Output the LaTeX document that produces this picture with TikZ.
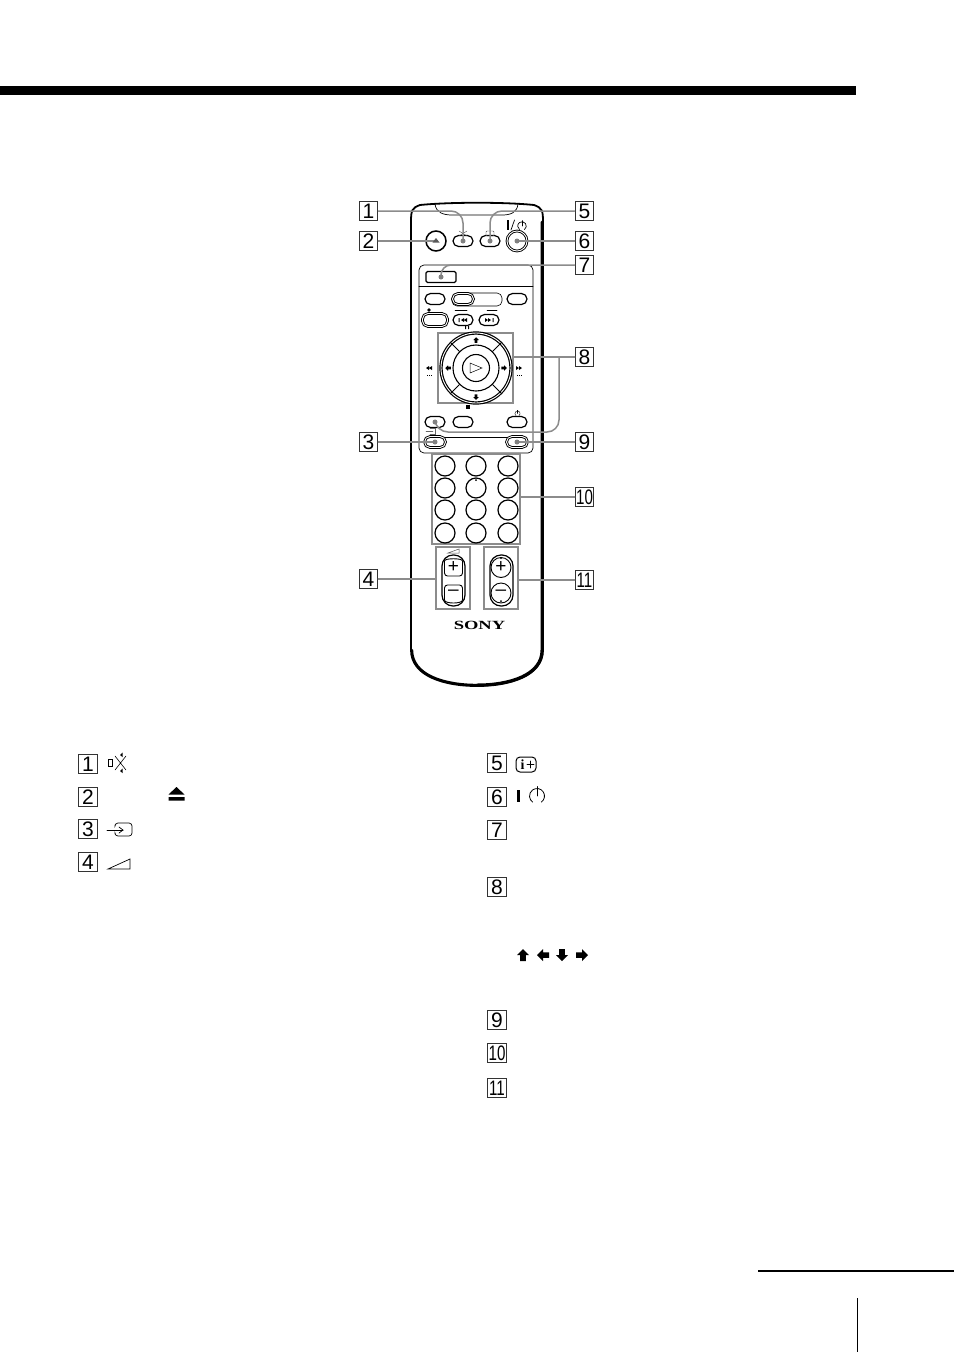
\documentclass[tikz,border=0pt]{standalone}
\usepackage{fontspec}
\setmainfont{Liberation Sans}
\newfontfamily\logofont{Liberation Serif}

% power mark: x, y, radius
\newcommand{\powermark}[4][thin]{
	\draw [#1] (#2,#3)++(55:#4) arc (55:-235:#4);
	\draw [#1] (#2,#3) -- ++(0,-#4*1.25);
}
% solid arrow: x, y, rotation
\newcommand{\navarrow}[4][1]{
	\fill [black,shift={(#2,#3)},rotate=#4,scale=#1] (0,-5) -- (5,0) -- (2.3,0) -- (2.3,5) -- (-2.3,5) -- (-2.3,0) -- (-5,0) -- cycle;
}
% double tip transport mark: x, y, direction
\newcommand{\skipmark}[3]{
	\fill [shift={(#1,#2)},xscale=#3] (-3,-2) -- (0,0) -- (-3,2) -- cycle (0,-2) -- (3,0) -- (0,2) -- cycle;
}

\begin{document}
\begin{tikzpicture}[x=1pt,y=-1pt,line cap=round]
	\tikzstyle{numbox} = [rectangle, draw=black!80, line width=1.2pt, fill=white, inner sep=0pt, minimum width=18.5pt, minimum height=18.5pt, font=\fontsize{21}{21}\selectfont];
	\tikzstyle{oval} = [rectangle, rounded corners=5.5pt, draw=black, line width=1.2pt, fill=white, inner sep=0pt, minimum width=20pt, minimum height=11pt];
	\tikzstyle{dbloval} = [oval, double=white, double distance=0.9pt, line width=0.9pt, minimum width=21pt, minimum height=11pt];
	\tikzstyle{keycircle} = [circle, draw=black, line width=1.2pt, fill=white, inner sep=0pt, minimum size=20pt];
	\tikzstyle{graybox} = [rectangle, draw=black!45, line width=1.8pt, inner sep=0pt];
	\tikzstyle{leader} = [draw=black!45, line width=1.5pt];
	\tikzstyle{tipdot} = [circle, fill=black!50, inner sep=0pt, minimum size=5pt];
	\tikzstyle{sign} = [inner sep=0pt, font=\fontsize{19}{19}\selectfont];
	\useasboundingbox (0,0) rectangle (954,1352);
	\fill [white] (0,0) rectangle (954,1352);
	% page rules
	\fill [black] (0,86) rectangle (856,95);
	\draw [line width=1.5pt,line cap=butt] (758,1271) -- (954,1271);
	\draw [line width=1pt,line cap=butt] (857,1298) -- (857,1352);
	% remote body
	\draw [line width=1.8pt] (411,222) .. controls (411,210) and (412,208) .. (420,205) .. controls (450,202) and (505,202) .. (534,205) .. controls (542,208) and (543,210) .. (543,222) -- (543,650) .. controls (543,676) and (510,686) .. (477,686) .. controls (444,686) and (411,676) .. (411,650) -- cycle;
	\draw [line width=3pt] (542,222) -- (542,650) .. controls (542,675) and (510,685) .. (477,685);
	\draw [line width=2.4pt] (477,685) .. controls (444,685) and (412,675) .. (412,650);
	\draw [line width=0.7pt] (435,204) .. controls (436,213) and (444,215) .. (452,215) -- (502,215) .. controls (510,215) and (517,213) .. (518,204);
	% top keys
	\node (eject) [keycircle, line width=1.5pt] at (436,241) {};
	\node (mute) [oval] at (463,241) {};
	\node (display) [oval] at (490,241) {};
	\node (power) [keycircle, double=white, double distance=0.9pt, line width=0.9pt, minimum size=20pt] at (517,241) {};
	\fill (507,220) rectangle (508.6,230);
	\draw [line width=0.7pt] (511,230) -- (514.5,220);
	\powermark[line width=0.7pt]{522}{226}{4.3}
	\draw [line width=0.4pt,black!70] (459,231) -- (467,236) (467,231) -- (459,236);
	\draw [line width=0.4pt,black!70,rounded corners=1pt] (486,231) rectangle (494,236);
	% panel
	\draw [line width=0.7pt,rounded corners=5pt] (419,265) rectangle (533,453);
	\draw [line width=0.7pt] (419,286) -- (533,286);
	\node (menu) [rectangle, rounded corners=1.5pt, draw=black, line width=1.2pt, fill=white, minimum width=30pt, minimum height=11pt, inner sep=0pt] at (441,277) {};
	% transport keys
	\draw [line width=0.6pt,rounded corners=5pt] (452,293) rectangle (502,306);
	\node (keya) [oval] at (435,299) {};
	\node (keyb) [dbloval] at (463,299) {};
	\node (keyc) [oval] at (517,299) {};
	\node (rec) [dbloval, minimum width=25pt, minimum height=13pt] at (435,320) {};
	\node (prev) [oval] at (463,320) {};
	\node (next) [oval] at (489,320) {};
	\fill (429,310) circle (1.8);
	\draw [line width=0.5pt] (455,310) -- (467,310) (487,310) -- (497,310);
	\skipmark{464}{320}{-1}
	\skipmark{488}{320}{1}
	\fill (458.5,318) rectangle (459.5,322) (492.5,318) rectangle (493.5,322);
	\fill (465,326) rectangle (466,329) (468,326) rectangle (469,329);
	% navigation ring
	\node (navbox) [graybox, minimum width=75pt, minimum height=70pt] at (475.5,368) {};
	\node (navring) [circle, draw=black, line width=1.2pt, double=white, double distance=0.9pt, inner sep=0pt, minimum size=70pt] at (476,368) {};
	\node (navinner) [circle, draw=black, line width=1.1pt, inner sep=0pt, minimum size=46pt] at (476,368) {};
	\node (playkey) [circle, draw=black, line width=1.1pt, inner sep=0pt, minimum size=27pt] at (476,368) {};
	\draw [line width=0.5pt] (470,363) -- (482,368) -- (470,373) -- cycle;
	\foreach \ang in {45,135,225,315}
		\draw [line width=1pt] (navinner.\ang) -- (navring.\ang);
	\navarrow[0.55]{476}{340}{0}
	\navarrow[0.55]{476}{397}{180}
	\navarrow[0.55]{448}{368}{90}
	\navarrow[0.55]{504}{368}{270}
	\skipmark{429}{368}{-1}
	\skipmark{519}{368}{1}
	\draw [line width=0.6pt,dash pattern=on 1pt off 1pt,line cap=butt] (427,375) -- (432,375) (517,375) -- (522,375);
	\fill (465.5,405) rectangle (470,409);
	% lower keys
	\node (input) [oval] at (435,422) {};
	\node (stopkey) [oval] at (463,422) {};
	\node (off) [oval] at (517,422) {};
	\powermark[line width=0.4pt]{517.5}{413.5}{2.6}
	\draw [line width=0.6pt] (435,437) -- (517,437);
	\node (tvvideo) [dbloval] at (435,442) {};
	\node (enter) [dbloval] at (517,442) {};
	% number keys
	\node (padbox) [graybox, minimum width=88pt, minimum height=90pt] at (476,499) {};
	\foreach \col/\xpos in {1/445,2/476,3/508}
		\foreach \row/\ypos in {1/466,2/488,3/510,4/533}
			\node (pad\row\col) [keycircle] at (\xpos,\ypos) {};
	\fill (476,480) circle (1);
	% volume and channel keys
	\node (volbox) [graybox, minimum width=34pt, minimum height=62pt] at (453,578) {};
	\node (chbox) [graybox, minimum width=34pt, minimum height=62pt] at (501,578) {};
	\draw [line width=1.2pt,rounded corners=11pt] (442,555) rectangle (465,606);
	\draw [line width=1.2pt,rounded corners=11pt] (490,555) rectangle (513,606);
	\draw [line width=0.9pt,rounded corners=3pt] (444.5,576) -- (444.5,564) .. controls (444.5,558) and (462.5,558) .. (462.5,564) -- (462.5,576) -- cycle;
	\draw [line width=0.9pt,rounded corners=3pt] (444.5,585) -- (444.5,597) .. controls (444.5,604) and (462.5,604) .. (462.5,597) -- (462.5,585) -- cycle;
	\node (volup) [sign] at (453.5,567.5) {+};
	\node (voldown) [sign] at (453.5,593) {--};
	\node (chup) [keycircle, line width=0.9pt, font=\fontsize{19}{19}\selectfont] at (501,567.5) {+};
	\node (chdown) [keycircle, line width=0.9pt, font=\fontsize{19}{19}\selectfont] at (501,593) {--};
	\draw [line width=0.5pt,black!70] (448,553) -- (459,549) -- (459,553) -- cycle;
	\fill (501,558) circle (1) (501,601) circle (1);
	\node (brand) [inner sep=0pt, font=\logofont\bfseries\fontsize{12.5}{12.5}\selectfont] at (479.5,625) {\scalebox{1.48}[1]{SONY}};
	% callout numbers
	\node (num1) [numbox] at (368.5,211) {1};
	\node (num2) [numbox] at (368.5,241) {2};
	\node (num3) [numbox] at (368.5,442) {3};
	\node (num4) [numbox] at (368.5,579) {4};
	\node (num5) [numbox] at (584.5,211) {5};
	\node (num6) [numbox] at (584.5,241) {6};
	\node (num7) [numbox] at (584.5,265) {7};
	\node (num8) [numbox] at (584.5,357) {8};
	\node (num9) [numbox] at (584.5,442) {9};
	\node (num10) [numbox] at (584.5,497) {\scalebox{0.72}[1]{10}};
	\node (num11) [numbox] at (584.5,580) {\scalebox{0.72}[1]{11}};
	% callout lines
	\coordinate (branch) at (559,357);
	\coordinate (branchlow) at (436,432);
	\draw [leader,rounded corners=12pt] (num1.east) -| (mute.center);
	\draw [leader,rounded corners=12pt] (num5.west) -| (display.center);
	\draw [leader,rounded corners=10pt] (num7.west) -| (menu.center);
	\draw [leader] (num2.east) -- (eject.center);
	\draw [leader] (num6.west) -- (power.center);
	\draw [leader] (num3.east) -- (tvvideo.center);
	\draw [leader] (num9.west) -- (enter.center);
	\draw [leader] (num8.west) -- (num8.west -| navbox.east);
	\draw [leader,rounded corners=12pt] (branch) |- (branchlow) -- (input.center);
	\draw [leader] (num10.west) -- (num10.west -| padbox.east);
	\draw [leader] (num4.east) -- (num4.east -| volbox.west);
	\draw [leader] (num11.west) -- (num11.west -| chbox.east);
	\foreach \keyname in {mute,display,menu,power,tvvideo,enter,input}
		\node [tipdot] at (\keyname.center) {};
	\fill [black!65] (432.5,242.5) -- (436,238) -- (439.5,242.5) -- cycle;
	% tiny input mark over the branch line
	\draw [line width=0.4pt,black!60] (426,431) -- (433,431) (430,428) -- (435,428) -- (435,434) -- (430,434);
	% legend numbers
	\node (item1) [numbox] at (88,764) {1};
	\node (item2) [numbox] at (88,797) {2};
	\node (item3) [numbox] at (88,829) {3};
	\node (item4) [numbox] at (88,862) {4};
	\node (item5) [numbox] at (497,763) {5};
	\node (item6) [numbox] at (497,797) {6};
	\node (item7) [numbox] at (497,830) {7};
	\node (item8) [numbox] at (497,887) {8};
	\node (item9) [numbox] at (497,1020) {9};
	\node (item10) [numbox] at (497,1053) {\scalebox{0.72}[1]{10}};
	\node (item11) [numbox] at (497,1088) {\scalebox{0.72}[1]{11}};
	% legend marks
	\draw [line width=0.7pt] (108,759) rectangle (112.5,766);
	\draw [line width=0.6pt] (115,756) -- (126,770) (126,756) -- (115,770);
	\fill (120,755) -- (122.5,752.5) -- (122.5,757) -- cycle (120,771) -- (122.5,768.5) -- (122.5,773) -- cycle;
	\fill (168.5,794.5) -- (176.5,787) -- (184.5,794.5) -- cycle (168.5,797) rectangle (184.5,800.5);
	\draw [line width=0.7pt] (107,830) -- (123,830);
	\draw [line width=0.7pt] (119,827) -- (123,830) -- (119,833);
	\draw [line width=0.7pt,rounded corners=3pt] (115,825) -- (115,823) -- (132,823) -- (132,836) -- (115,836) -- (115,834);
	\draw [line width=0.7pt] (108,869) -- (130,859) -- (130,869) -- cycle;
	\draw [line width=1pt,rounded corners=4pt] (516,757) rectangle (536,772);
	\node (infotext) [inner sep=0pt, font=\logofont\bfseries\fontsize{14}{14}\selectfont] at (522.5,764.5) {i};
	\draw [line width=0.7pt] (527,764.5) -- (534,764.5) (530.5,761) -- (530.5,768);
	\fill (517,790) rectangle (520,802);
	\powermark[line width=0.8pt]{537}{796}{7.5}
	\navarrow[1.2]{523}{955}{0}
	\navarrow[1.2]{543}{955}{90}
	\navarrow[1.2]{562}{955}{180}
	\navarrow[1.2]{582}{955}{270}
\end{tikzpicture}
\end{document}
